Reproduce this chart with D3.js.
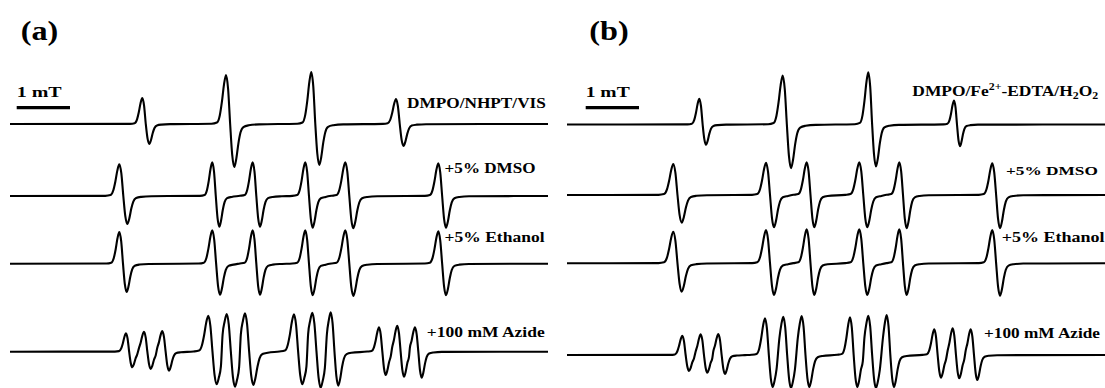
<!DOCTYPE html>
<html>
<head>
<meta charset="utf-8">
<script src="https://cdn.jsdelivr.net/npm/d3@7"></script>
<style>
  html, body { margin: 0; padding: 0; background: #fff; }
</style>
</head>
<body>
<div id="chart"></div>
<script>
// field span of one panel, mT
var field = [0, 10.094];

// each line: [top field (mT), top amplitude, trough field (mT), trough depth]
var ohA = [[2.482, 26, 2.613, 20], [4.053, 49, 4.208, 43], [5.653, 52, 5.803, 41], [7.242, 25, 7.383, 22]];
var dmsoA = [[2.051, 31.7, 2.201, 28], [3.795, 33.7, 3.927, 30.7], [4.553, 33.7, 4.690, 30.7],
             [5.540, 33.7, 5.679, 31.7], [6.291, 33.7, 6.441, 32.3], [8.036, 32.7, 8.180, 31.7]];
var etohA = [[2.051, 31.7, 2.189, 28.3], [3.795, 33.4, 3.940, 31], [4.553, 33.4, 4.690, 31],
             [5.540, 33.4, 5.679, 31.6], [6.291, 33.4, 6.441, 32.3], [8.036, 32.4, 8.180, 31.6]];
var azideA = [[2.176, 18.4, 2.295, 15.6], [2.514, 20, 2.640, 17.3], [2.857, 20.7, 2.983, 19],
              [3.720, 36, 3.878, 32.6], [4.066, 37.7, 4.221, 35], [4.409, 38.4, 4.565, 33.3],
              [5.328, 37.4, 5.484, 32.6], [5.672, 39, 5.829, 36], [6.017, 39.4, 6.159, 34],
              [6.923, 24.4, 7.049, 23.3], [7.266, 26, 7.392, 25], [7.598, 24.4, 7.724, 26]];

var ohB = [[2.482, 25.7, 2.608, 20.3], [4.047, 49, 4.203, 43.7], [5.653, 52.3, 5.797, 42], [7.261, 24, 7.373, 21.7]];
var dmsoB = [[1.994, 31, 2.152, 27.7], [3.734, 32.3, 3.884, 32.3], [4.497, 32.7, 4.640, 32.3],
             [5.484, 32.7, 5.634, 32.3], [6.235, 32.7, 6.373, 33.3], [7.979, 31.7, 8.124, 33.3]];
var etohB = [[1.994, 31.6, 2.152, 28.4], [3.734, 33.3, 3.884, 31.7], [4.497, 34, 4.640, 31.7],
             [5.484, 34, 5.634, 31.7], [6.235, 34, 6.373, 31.7], [7.979, 33.3, 8.124, 32.4]];
var azideB = [[2.163, 19.3, 2.289, 16], [2.508, 20.7, 2.632, 17.7], [2.839, 21, 2.964, 19],
              [3.715, 36.7, 3.859, 32], [4.058, 38.3, 4.203, 33], [4.403, 39, 4.546, 32],
              [5.310, 37.7, 5.447, 32], [5.653, 39.3, 5.797, 33], [5.998, 40, 6.135, 32],
              [6.891, 25.7, 7.017, 22.7], [7.236, 26.7, 7.360, 23.3], [7.574, 25.7, 7.698, 25]];

var labelsA = ["DMPO/NHPT/VIS", "+5% DMSO", "+5% Ethanol", "+100 mM Azide"];
var labelsB = ["DMPO/Fe^{2+}-EDTA/H_{2}O_{2}", "+5% DMSO", "+5% Ethanol", "+100 mM Azide"];
var tags = ["(a)", "(b)"];
var barText = "1 mT";

// ---- layout ----
var W = 1105, H = 388;
var serif = "'Liberation Serif', 'Times New Roman', Times, serif";
var panels = [
  { x: [10, 548], tag: [20.7, 39.5, 37.6], bar: 16.7, barLbl: [16.7, 96.7, 45],
    traces: [ohA, dmsoA, etohA, azideA], base: [124, 196, 263.7, 351.7], labels: labelsA,
    lpos: [[407, 108.3, 15, 139], [444.6, 173.3, 14, 91], [444.6, 242.3, 14, 100], [426.8, 336.5, 14, 118]] },
  { x: [567, 1105], tag: [589.3, 39.5, 39.5], bar: 585.7, barLbl: [585.7, 96.7, 44],
    traces: [ohB, dmsoB, etohB, azideB], base: [124.5, 195, 263.3, 355], labels: labelsB,
    lpos: [[912.3, 95.5, 15, 186], [1006, 175, 13.5, 92], [1001.7, 241.7, 14, 103], [984, 338, 14, 116]] }
];

// derivative line shape: [offset in half peak-to-peak widths, fraction of amplitude]
var shape = [[-4.5, 0.005], [-3.2, 0.03], [-2.5, 0.18], [-2, 0.45], [-1.5, 0.8], [-1, 1], [-0.5, 0.72], [0, 0],
             [0.5, -0.72], [1, -1], [1.5, -0.8], [2, -0.45], [2.5, -0.2], [3.2, -0.07], [4.5, -0.03], [7, -0.008]];

function tracePoints(lines) {
  var pts = [[field[0], 0]];
  lines.forEach(function (l, i) {
    var c = (l[0] + l[2]) / 2, h = (l[2] - l[0]) / 2;
    var lo = i ? (lines[i - 1][2] + l[0]) / 2 : -Infinity;
    var hi = i < lines.length - 1 ? (l[2] + lines[i + 1][0]) / 2 : Infinity;
    shape.forEach(function (s) {
      var f = c + s[0] * h;
      if (f > lo && f < hi) pts.push([f, s[1] * (s[0] < 0 ? l[1] : l[3])]);
    });
  });
  pts.push([field[1], 0]);
  return pts;
}

var svg = d3.select("#chart").append("svg")
  .attr("width", W).attr("height", H)
  .attr("xmlns", "http://www.w3.org/2000/svg");

// text with ^{..} superscripts and _{..} subscripts, stretched to a given width
function label(str, x, y, size, width) {
  var t = svg.append("text")
    .attr("font-family", serif)
    .attr("font-weight", "bold")
    .attr("font-size", size)
    .attr("fill", "#000");
  var parts = str.split(/(\^\{[^}]*\}|_\{[^}]*\})/).filter(function (p) { return p.length; });
  var shift = 0;
  parts.forEach(function (p) {
    var ts = t.append("tspan");
    var target = 0, txt = p;
    if (p[0] == "^") { target = -size * 0.38; txt = p.slice(2, -1); ts.attr("font-size", size * 0.68); }
    else if (p[0] == "_") { target = size * 0.25; txt = p.slice(2, -1); ts.attr("font-size", size * 0.68); }
    ts.attr("dy", target - shift).text(txt);
    shift = target;
  });
  var len = t.node().getComputedTextLength();
  t.attr("transform", "translate(" + x + "," + y + ") scale(" + (width / len) + ",1)");
}

panels.forEach(function (p, pi) {
  var x = d3.scaleLinear().domain(field).range(p.x);

  p.traces.forEach(function (lines, i) {
    var y = d3.scaleLinear().domain([-60, 60]).range([p.base[i] + 60, p.base[i] - 60]);
    var line = d3.line()
      .x(function (d) { return x(d[0]); })
      .y(function (d) { return y(d[1]); })
      .curve(d3.curveMonotoneX);
    svg.append("path")
      .attr("d", line(tracePoints(lines)))
      .attr("fill", "none")
      .attr("stroke", "#000")
      .attr("stroke-width", 2.1)
      .attr("stroke-linejoin", "round");
  });

  // 1 mT scale bar
  var f0 = x.invert(p.bar);
  svg.append("line")
    .attr("x1", x(f0)).attr("x2", x(f0 + 1))
    .attr("y1", 107.7).attr("y2", 107.7)
    .attr("stroke", "#000").attr("stroke-width", 3.3);
  label(barText, p.barLbl[0], p.barLbl[1], 14.5, p.barLbl[2]);

  label(tags[pi], p.tag[0], p.tag[1], 28, p.tag[2]);

  p.labels.forEach(function (s, i) {
    var lp = p.lpos[i];
    label(s, lp[0], lp[1], lp[2], lp[3]);
  });
});
</script>
</body>
</html>
